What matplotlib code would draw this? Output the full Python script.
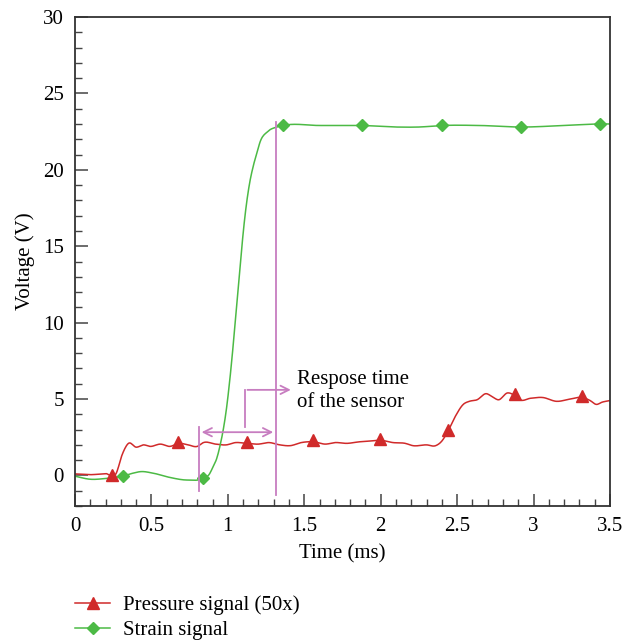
import numpy as np
import matplotlib
matplotlib.use('Agg')
import matplotlib.pyplot as plt
from matplotlib.ticker import MultipleLocator

plt.rcParams['font.family'] = ['Liberation Serif', 'DejaVu Serif']
plt.rcParams['font.size'] = 15

# pressure signal (50x)
t_p = [0.0, 0.1, 0.2, 0.27, 0.31, 0.35, 0.40, 0.45, 0.49, 0.56, 0.62, 0.68, 0.74,
       0.80, 0.84, 0.92, 0.99, 1.05, 1.12, 1.20, 1.27, 1.34, 1.41, 1.48, 1.56,
       1.64, 1.70, 1.78, 1.86, 1.93, 2.0, 2.08, 2.16, 2.21, 2.30, 2.36, 2.40,
       2.44, 2.49, 2.54, 2.58, 2.63, 2.69, 2.73, 2.77, 2.83, 2.88, 2.91, 2.98,
       3.06, 3.15, 3.24, 3.32, 3.37, 3.41, 3.45, 3.50]
v_p = [0.1, 0.05, 0.12, 0.15, 1.4, 2.1, 1.85, 2.0, 1.9, 2.05, 1.9, 2.1, 2.0,
       1.9, 2.15, 2.05, 2.0, 2.15, 2.1, 2.05, 2.15, 2.0, 1.95, 2.15, 2.2,
       2.05, 2.15, 2.1, 2.2, 2.25, 2.3, 2.15, 2.1, 1.95, 2.0, 1.95, 2.25,
       2.9, 3.9, 4.65, 4.85, 4.95, 5.35, 5.15, 4.95, 5.4, 5.2, 4.95, 5.05,
       5.1, 4.85, 5.0, 5.1, 4.9, 4.65, 4.8, 4.9]

# strain signal
t_s = [0.0, 0.1, 0.2, 0.31, 0.38, 0.43, 0.51, 0.62, 0.73, 0.84, 0.88, 0.90,
       0.93, 0.95, 0.97, 0.99, 1.01, 1.03, 1.05, 1.07, 1.09, 1.11, 1.14, 1.165,
       1.19, 1.21, 1.26, 1.32, 1.36, 1.6, 1.88, 2.1, 2.25, 2.40, 2.65, 2.92,
       3.2, 3.44, 3.50]
v_s = [-0.05, -0.25, -0.2, -0.05, 0.15, 0.25, 0.15, -0.13, -0.3, -0.18, 0.1, 0.5,
       1.2, 2.0, 3.0, 4.3, 6.0, 8.0, 10.3, 12.5, 14.8, 16.8, 19.0, 20.2,
       21.1, 21.8, 22.5, 22.8, 22.9, 22.9, 22.9, 22.8, 22.8, 22.9, 22.9, 22.8,
       22.9, 23.0, 23.0]

p_mark_t = [0.242, 0.674, 1.125, 1.557, 1.995, 2.44, 2.877, 3.316]
s_mark_t = [0.314, 0.837, 1.36, 1.88, 2.40, 2.917, 3.434]

red = '#d02a2a'
green = '#4cba45'
purple = '#c77dc0'


def smooth(x, y, n=700):
    # cubic hermite through the read points
    x = np.asarray(x)
    y = np.asarray(y)
    xs = np.linspace(x[0], x[-1], n)
    d = np.gradient(y, x)
    ys = np.empty_like(xs)
    idx = np.clip(np.searchsorted(x, xs) - 1, 0, len(x) - 2)
    for k, xv in enumerate(xs):
        i = idx[k]
        h = x[i + 1] - x[i]
        s = (xv - x[i]) / h
        h00 = 2 * s**3 - 3 * s**2 + 1
        h10 = s**3 - 2 * s**2 + s
        h01 = -2 * s**3 + 3 * s**2
        h11 = s**3 - s**2
        ys[k] = h00 * y[i] + h10 * h * d[i] + h01 * y[i + 1] + h11 * h * d[i + 1]
    return xs, ys


fig = plt.figure(figsize=(6.22, 6.41), dpi=100)
ax = fig.add_axes([75 / 622, 1 - 506 / 641, 535 / 622, 489 / 641])

xp, yp = smooth(t_p, v_p)
xs, ys = smooth(t_s, v_s)
ax.plot(xp, yp, color=red, lw=1.1)
ax.plot(xs, ys, color=green, lw=1.1)
ax.plot(p_mark_t, np.interp(p_mark_t, xp, yp) + 0.1, '^', color=red, ms=8, ls='none')
ax.plot(s_mark_t, np.interp(s_mark_t, xs, ys), 'D', color=green, ms=6, ls='none')

# legend proxies
ax.plot([], [], color=red, marker='^', ms=8, lw=1.1, label='Pressure signal (50x)')
ax.plot([], [], color=green, marker='D', ms=6, lw=1.1, label='Strain signal')

# response time annotation
ax.plot([0.81, 0.81], [-1.05, 3.2], color=purple, lw=1.3)
ax.plot([1.315, 1.315], [-1.3, 23.1], color=purple, lw=1.3)
ax.annotate('', xy=(0.81, 2.83), xytext=(1.315, 2.83),
            arrowprops=dict(arrowstyle='<->', color=purple, lw=1.3))
ax.plot([1.11, 1.11], [3.2, 5.6], color=purple, lw=1.3)
ax.annotate('', xy=(1.43, 5.6), xytext=(1.11, 5.6),
            arrowprops=dict(arrowstyle='->', color=purple, lw=1.3))
ax.text(1.45, 5.5, 'Respose time\nof the sensor', ha='left', va='center',
        fontsize=15, linespacing=1.3)

ax.set_xlim(0, 3.5)
ax.set_ylim(-2, 30)
ax.xaxis.set_minor_locator(MultipleLocator(0.1))
ax.yaxis.set_major_locator(MultipleLocator(5))
ax.yaxis.set_minor_locator(MultipleLocator(1))
ax.set_xticks([0, 0.5, 1, 1.5, 2, 2.5, 3, 3.5])
ax.set_xticklabels(['0', '0.5', '1', '1.5', '2', '2.5', '3', '3.5'])
ax.tick_params(which='both', direction='in', top=False, right=False, color='#444444')
ax.tick_params(which='major', length=9, width=1.1, pad=8)
ax.tick_params(which='minor', length=5, width=1.0)
for sp in ax.spines.values():
    sp.set_linewidth(1.3)
    sp.set_color('#333333')

ax.set_xlabel('Time (ms)', labelpad=6)
ax.set_ylabel('Voltage (V)', labelpad=6)

fig.legend(loc='upper left', bbox_to_anchor=(0.107, 0.084), frameon=False,
           handlelength=1.7, handletextpad=0.6, labelspacing=0.25, borderaxespad=0,
           fontsize=15)

fig.savefig('out.png', dpi=100)
